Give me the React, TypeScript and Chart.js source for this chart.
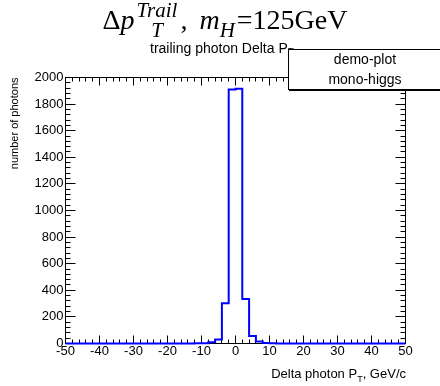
import React, { useEffect, useRef } from "react";
import { Chart, registerables } from "chart.js";

Chart.register(...registerables);

// ---- data ----
const BIN_LOW = -50;
const BIN_WIDTH = 2;
const photonCounts = [
  0, 0, 0, 0, 0, 0, 0, 0, 0, 0,
  0, 0, 0, 0, 0, 0, 0, 0, 0, 1,
  2, 10, 30, 302, 1910, 1916, 335, 56, 15, 3,
  1, 0, 0, 0, 0, 0, 0, 0, 0, 0,
  0, 0, 0, 0, 0, 0, 0, 0, 0, 0,
];
const xTicks = [-50, -40, -30, -20, -10, 0, 10, 20, 30, 40, 50];
const yTicks = [0, 200, 400, 600, 800, 1000, 1200, 1400, 1600, 1800, 2000];
const X_MINOR = 2;
const Y_MINOR = 40;

const SANS = '"Liberation Sans", Arial, Helvetica, sans-serif';
const SERIF = '"Liberation Serif", "Times New Roman", serif';

const rootFrame = {
  id: "rootFrame",
  beforeDatasetsDraw(chart: any) {
    const { ctx, chartArea, scales } = chart;
    const { left, right, top, bottom } = chartArea;
    const x = scales.x;
    const y = scales.y;
    ctx.save();
    ctx.strokeStyle = "#000";
    ctx.lineWidth = 1;
    ctx.strokeRect(left, top, right - left, bottom - top);
    ctx.beginPath();
    const xMin = xTicks[0];
    const xMax = xTicks[xTicks.length - 1];
    for (let v = xMin; v <= xMax + 1e-9; v += X_MINOR) {
      const px = Math.round(x.getPixelForValue(v) - 0.5) + 0.5;
      const major = xTicks.includes(v);
      const len = major ? 8 : 4;
      ctx.moveTo(px, bottom);
      ctx.lineTo(px, bottom - len);
      ctx.moveTo(px, top);
      ctx.lineTo(px, top + len);
    }
    const yMin = yTicks[0];
    const yMax = yTicks[yTicks.length - 1];
    for (let v = yMin; v <= yMax + 1e-9; v += Y_MINOR) {
      const py = Math.round(y.getPixelForValue(v) - 0.5) + 0.5;
      const major = yTicks.includes(v);
      const len = major ? 10 : 5;
      ctx.moveTo(left, py);
      ctx.lineTo(left + len, py);
      ctx.moveTo(right, py);
      ctx.lineTo(right - len, py);
    }
    ctx.stroke();
    ctx.restore();
  },
};

export default function App() {
  const canvasRef = useRef<HTMLCanvasElement | null>(null);

  useEffect(() => {
    document.body.style.margin = "0";
    const canvas = canvasRef.current;
    if (!canvas) return;
    const points = photonCounts.map((c, i) => ({ x: BIN_LOW + i * BIN_WIDTH, y: c }));
    points.push({
      x: BIN_LOW + photonCounts.length * BIN_WIDTH,
      y: photonCounts[photonCounts.length - 1],
    });
    const chart = new Chart(canvas, {
      type: "line",
      data: {
        datasets: [
          {
            data: points,
            stepped: true,
            borderColor: "#0000ff",
            borderWidth: 2,
            pointRadius: 0,
            fill: false,
            clip: 4,
          } as any,
        ],
      },
      options: {
        animation: false,
        responsive: false,
        maintainAspectRatio: false,
        events: [],
        layout: { padding: { top: 77.5, right: 34.5, left: 0, bottom: 0 } },
        plugins: { legend: { display: false }, tooltip: { enabled: false }, title: { display: false } },
        scales: {
          x: {
            type: "linear",
            min: xTicks[0],
            max: xTicks[xTicks.length - 1],
            afterBuildTicks: (s: any) => {
              s.ticks = xTicks.map((v) => ({ value: v }));
            },
            afterFit: (s: any) => {
              s.height = 42.5;
            },
            ticks: {
              autoSkip: false,
              maxRotation: 0,
              padding: 0,
              color: "#000",
              font: { family: SANS, size: 13 },
              callback: (v: any) => String(v),
            },
            grid: { display: false, drawTicks: false },
            border: { display: false },
          },
          y: {
            type: "linear",
            min: yTicks[0],
            max: yTicks[yTicks.length - 1],
            afterBuildTicks: (s: any) => {
              s.ticks = yTicks.map((v) => ({ value: v }));
            },
            afterFit: (s: any) => {
              s.width = 65.5;
            },
            ticks: {
              autoSkip: false,
              padding: 2,
              color: "#000",
              font: { family: SANS, size: 13 },
              callback: (v: any) => String(v),
            },
            grid: { display: false, drawTicks: false },
            border: { display: false },
            title: {
              display: true,
              text: "number of photons",
              align: "end",
              color: "#000",
              font: { family: SANS, size: 11 },
              padding: { top: 8, bottom: 0 },
            },
          },
        },
      },
      plugins: [rootFrame],
    });
    return () => chart.destroy();
  }, []);

  return (
    <div style={{ position: "relative", width: 440, height: 386, background: "#fff", overflow: "hidden" }}>
      <canvas ref={canvasRef} width={440} height={386} style={{ position: "absolute", left: 0, top: 0 }} />
      <div
        style={{
          position: "absolute",
          left: 5,
          top: 0,
          width: 440,
          textAlign: "center",
          fontFamily: SERIF,
          fontSize: 28,
          lineHeight: "28px",
          whiteSpace: "nowrap",
          color: "#000",
        }}
      >
        Δ<i>p</i>
        <span
          style={{
            display: "inline-block",
            verticalAlign: -8,
            fontSize: 21,
            lineHeight: "20px",
            fontStyle: "italic",
            marginLeft: 2,
            marginRight: 3,
          }}
        >
          <span style={{ display: "block" }}>Trail</span>
          <span style={{ display: "block" }}>T</span>
        </span>
        ,<i style={{ marginLeft: 12 }}>m</i>
        <span style={{ fontSize: 21, fontStyle: "italic", verticalAlign: -8, marginRight: 2 }}>H</span>=125GeV
      </div>
      <div
        style={{
          position: "absolute",
          left: 150,
          top: 40.6,
          fontFamily: SANS,
          fontSize: 14,
          lineHeight: "14px",
          whiteSpace: "nowrap",
          color: "#000",
        }}
      >
        trailing photon Delta P<span style={{ fontSize: 10, verticalAlign: -3 }}>T</span>
      </div>
      <div
        style={{
          position: "absolute",
          left: 287.5,
          top: 49,
          width: 160,
          height: 41,
          boxSizing: "border-box",
          border: "1px solid #000",
          boxShadow: "1px 1px 0 #000",
          background: "#fff",
          fontFamily: SANS,
          fontSize: 14,
          color: "#000",
        }}
      >
        <div style={{ width: 153, textAlign: "center", height: 19, lineHeight: "19px" }}>demo-plot</div>
        <div style={{ width: 153, textAlign: "center", height: 20, lineHeight: "20px" }}>mono-higgs</div>
      </div>
      <div
        style={{
          position: "absolute",
          right: 34,
          top: 366.6,
          fontFamily: SANS,
          fontSize: 13,
          lineHeight: "13px",
          whiteSpace: "nowrap",
          color: "#000",
        }}
      >
        Delta photon P<span style={{ fontSize: 9, verticalAlign: -4 }}>T</span>, GeV/c
      </div>
    </div>
  );
}
